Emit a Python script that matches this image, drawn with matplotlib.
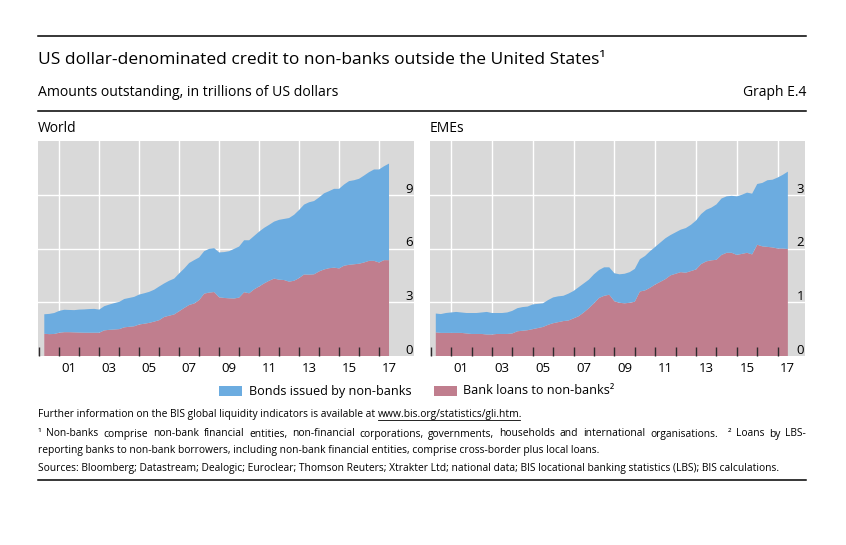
import matplotlib
matplotlib.use("Agg")
import matplotlib.pyplot as plt
from matplotlib.lines import Line2D
from matplotlib.patches import Rectangle
import matplotlib.transforms as mtransforms

# ---------------- data (quarterly, 2000Q1 - 2017Q2), USD trn ----------------
quarters = [y + q / 4 for y in range(2000, 2018) for q in (1, 2, 3, 4)][:70]

world_loans = [1.24, 1.22, 1.23, 1.30, 1.33, 1.33, 1.32, 1.31, 1.30, 1.30, 1.30, 1.30,
               1.43, 1.46, 1.48, 1.50, 1.60, 1.63, 1.66, 1.76, 1.80, 1.85, 1.92, 2.00,
               2.18, 2.25, 2.32, 2.50, 2.68, 2.85, 2.93, 3.12, 3.48, 3.54, 3.57, 3.28,
               3.24, 3.22, 3.21, 3.26, 3.56, 3.50, 3.72, 3.88, 4.05, 4.20, 4.32, 4.26,
               4.24, 4.15, 4.20, 4.35, 4.55, 4.54, 4.56, 4.72, 4.83, 4.90, 4.93, 4.89,
               5.04, 5.09, 5.12, 5.15, 5.22, 5.31, 5.31, 5.22, 5.35, 5.35]
world_bonds = [1.09, 1.13, 1.17, 1.22, 1.25, 1.24, 1.24, 1.28, 1.30, 1.32, 1.33, 1.29,
               1.35, 1.41, 1.47, 1.52, 1.58, 1.61, 1.64, 1.67, 1.70, 1.73, 1.78, 1.88,
               1.87, 1.95, 2.00, 2.11, 2.20, 2.34, 2.42, 2.38, 2.37, 2.44, 2.45, 2.50,
               2.56, 2.63, 2.77, 2.85, 2.90, 2.96, 2.98, 3.06, 3.10, 3.12, 3.18, 3.34,
               3.41, 3.55, 3.68, 3.80, 3.90, 4.04, 4.09, 4.13, 4.25, 4.30, 4.40, 4.44,
               4.53, 4.67, 4.69, 4.74, 4.85, 4.95, 5.10, 5.19, 5.24, 5.39]

eme_loans = [0.44, 0.43, 0.43, 0.43, 0.43, 0.43, 0.42, 0.41, 0.41, 0.41, 0.40, 0.40,
             0.41, 0.41, 0.41, 0.42, 0.46, 0.47, 0.48, 0.50, 0.52, 0.54, 0.58, 0.61,
             0.63, 0.65, 0.66, 0.70, 0.74, 0.81, 0.89, 0.98, 1.08, 1.12, 1.14, 1.02,
             0.99, 0.98, 0.99, 1.01, 1.20, 1.22, 1.27, 1.33, 1.38, 1.43, 1.50, 1.53,
             1.56, 1.55, 1.58, 1.61, 1.71, 1.76, 1.78, 1.79, 1.88, 1.92, 1.92, 1.88,
             1.90, 1.92, 1.89, 2.07, 2.04, 2.03, 2.02, 2.00, 2.00, 1.99]
eme_bonds = [0.35, 0.35, 0.37, 0.38, 0.39, 0.38, 0.38, 0.39, 0.39, 0.40, 0.42, 0.40,
             0.39, 0.39, 0.40, 0.42, 0.43, 0.44, 0.44, 0.46, 0.45, 0.44, 0.46, 0.48,
             0.48, 0.47, 0.50, 0.51, 0.54, 0.54, 0.53, 0.54, 0.52, 0.53, 0.51, 0.52,
             0.53, 0.55, 0.57, 0.61, 0.60, 0.64, 0.68, 0.70, 0.73, 0.76, 0.75, 0.77,
             0.79, 0.83, 0.86, 0.91, 0.93, 0.96, 0.98, 1.03, 1.05, 1.05, 1.06, 1.09,
             1.10, 1.12, 1.13, 1.13, 1.18, 1.24, 1.26, 1.32, 1.37, 1.44]

year_ticks = list(range(2000, 2018))
label_years = list(range(2001, 2018, 2))
label_text = ["01", "03", "05", "07", "09", "11", "13", "15", "17"]
world_yticks = [0, 3, 6, 9]
eme_yticks = [0, 1, 2, 3]

series_names = ["Bonds issued by non-banks", "Bank loans to non-banks\u00b2"]

# ---------------- style ----------------
BLUE = "#6cace0"
RED = "#c07e8e"
GRAY = "#d9d9d9"
TICK = "#2e2a2c"
W, H = 846, 545
plt.rcParams["font.family"] = ["Open Sans", "DejaVu Sans"]

fig = plt.figure(figsize=(W / 100, H / 100), dpi=100)
fig.patch.set_facecolor("white")


def fx(x):
    return x / W


def fy(y):
    return 1 - y / H


def hline(y, x0=38, x1=806, lw=1.1):
    fig.add_artist(Line2D([fx(x0), fx(x1)], [fy(y), fy(y)], color="black",
                          lw=lw, transform=fig.transFigure))


def panel(rect_px, xlim, loans, bonds, yticks, ylim, name):
    x0, y0, x1, y1 = rect_px
    ax = fig.add_axes([fx(x0), fy(y1), fx(x1 - x0), (y1 - y0) / H])
    ax.set_facecolor(GRAY)
    for s in ax.spines.values():
        s.set_visible(False)
    ax.set_xlim(*xlim)
    ax.set_ylim(*ylim)
    for yy in yticks[1:]:
        ax.axhline(yy, color="white", lw=1.0, zorder=0.5)
    for xx in label_years:
        ax.axvline(xx, color="white", lw=1.0, zorder=0.5)
    ax.stackplot(quarters, loans, bonds, colors=[RED, BLUE], lw=0, zorder=1)
    ax.set_xticks(year_ticks)
    ax.set_xticklabels([])
    ax.tick_params(axis="x", which="major", direction="in", length=6.5,
                   width=1.0, color=TICK, zorder=3)
    ax.set_xticks([y + 0.5 for y in label_years], minor=True)
    ax.set_xticklabels(label_text, minor=True)
    ax.tick_params(axis="x", which="minor", length=0, pad=4, labelsize=9.5,
                   labelcolor="black")
    ax.set_yticks([])
    off = mtransforms.offset_copy(ax.get_yaxis_transform(), fig=fig, x=-1, y=2,
                                  units="dots")
    for yy in yticks:
        ax.text(1.0, yy, str(yy), transform=off, ha="right", va="baseline",
                fontsize=9.5, zorder=4)
    fig.text(fx(x0), fy(128), name, ha="left", va="center", fontsize=10)
    return ax


panel((38, 141, 414, 356), (1999.935, 2018.75), world_loans, world_bonds,
      world_yticks, (0, 12), "World")
panel((430, 141, 805, 356), (1999.966, 2018.34), eme_loans, eme_bonds,
      eme_yticks, (0, 4), "EMEs")

# ---------------- titles and rules ----------------
hline(36)
hline(111)
hline(480)
fig.text(fx(38), fy(60), "US dollar-denominated credit to non-banks outside the United States\u00b9",
         ha="left", va="center", fontsize=12.5)
fig.text(fx(38), fy(92), "Amounts outstanding, in trillions of US dollars",
         ha="left", va="center", fontsize=10.1)
fig.text(fx(806), fy(92), "Graph E.4", ha="right", va="center", fontsize=10)

# ---------------- legend ----------------
for (px0, tx), col, lab in zip([(219, 249), (434, 463)], [BLUE, RED], series_names):
    fig.add_artist(Rectangle((fx(px0), fy(396)), fx(23), 10 / H, facecolor=col,
                             edgecolor="none", transform=fig.transFigure))
    fig.text(fx(tx), fy(391), lab, ha="left", va="center", fontsize=9.1)

# ---------------- footnotes ----------------
fig.canvas.draw()
r = fig.canvas.get_renderer()
FS = 7.4

t1 = fig.text(fx(38), fy(415), "Further information on the BIS global liquidity indicators is available at ",
              ha="left", va="center", fontsize=FS)
bb = t1.get_window_extent(renderer=r)
lx = bb.x1
tmp = fig.text(lx / W, fy(415), "www.bis.org/statistics/gli.htm", ha="left", va="center", fontsize=FS)
bb2 = tmp.get_window_extent(renderer=r)
tmp.remove()
fig.text(lx / W, fy(415), "www.bis.org/statistics/gli.htm.", ha="left", va="center", fontsize=FS)
fig.add_artist(Line2D([bb2.x0 / W, bb2.x1 / W], [fy(420), fy(420)], color="black", lw=0.6,
                      transform=fig.transFigure))


def justify(text, y, x0=38, x1=806):
    words = text.split(" ")
    ts = [fig.text(0, fy(y), w, ha="left", va="center", fontsize=FS) for w in words]
    widths = [t.get_window_extent(renderer=r).width for t in ts]
    gap = (x1 - x0 - sum(widths)) / (len(words) - 1)
    x = x0
    for t, w in zip(ts, widths):
        t.set_x(x / W)
        x += w + gap


justify("\u00b9 Non-banks comprise non-bank financial entities, non-financial corporations, governments, "
        "households and international organisations.  \u00b2 Loans by LBS-", 434)
fig.text(fx(38), fy(450), "reporting banks to non-bank borrowers, including non-bank financial entities, "
         "comprise cross-border plus local loans.", ha="left", va="center", fontsize=FS)
fig.text(fx(38), fy(469), "Sources: Bloomberg; Datastream; Dealogic; Euroclear; Thomson Reuters; Xtrakter Ltd; "
         "national data; BIS locational banking statistics (LBS); BIS calculations.",
         ha="left", va="center", fontsize=FS)

fig.savefig("out.png", dpi=100)
